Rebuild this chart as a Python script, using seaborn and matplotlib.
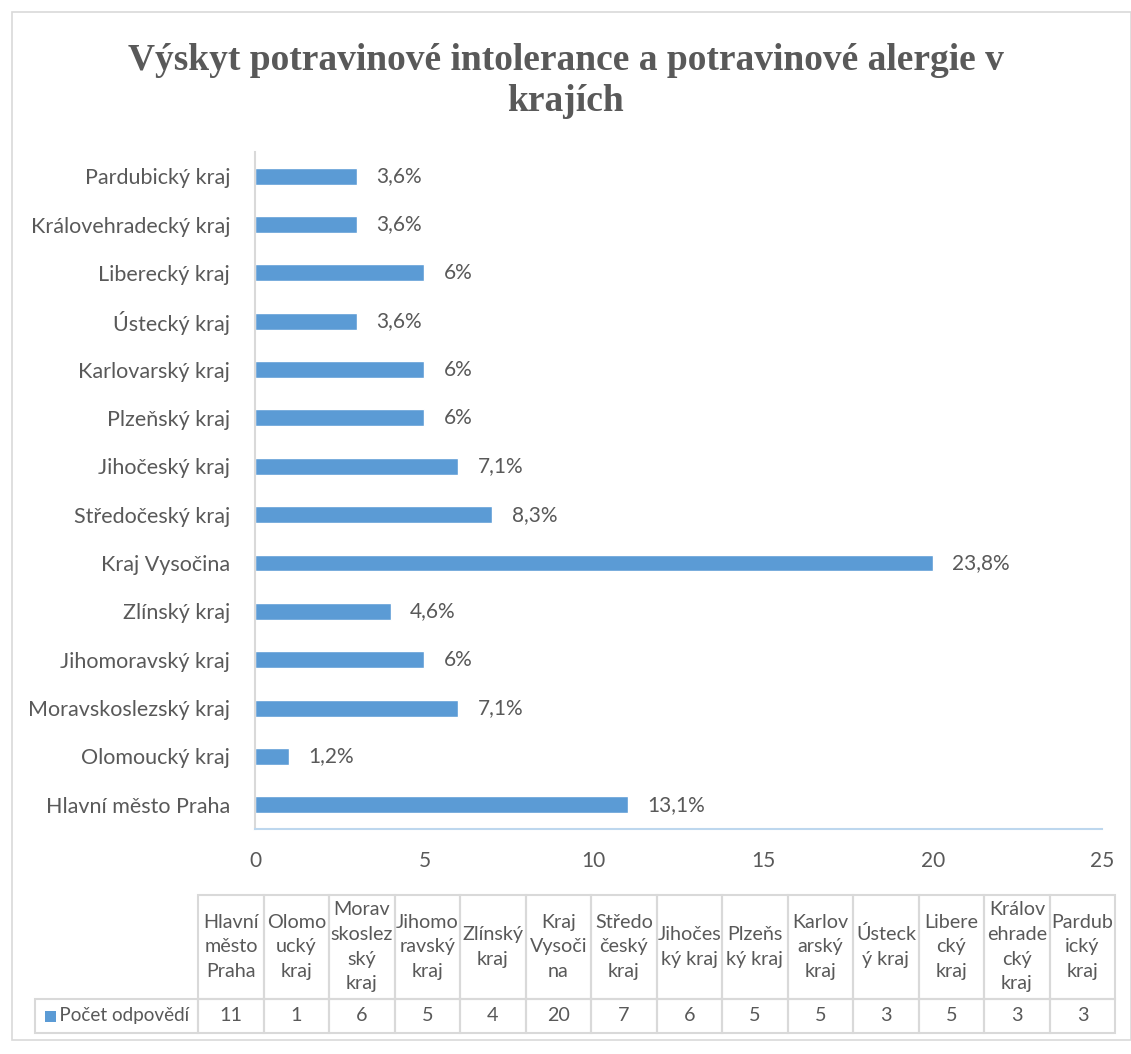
#! /usr/bin/env python3
import matplotlib
matplotlib.use("Agg")
import matplotlib.pyplot as plt
from matplotlib.patches import Rectangle
from matplotlib.table import Table
import pandas as pd
import seaborn as sns

# data, in the order of the table under the chart (bottom bar first)
regions = ["Hlavní město Praha", "Olomoucký kraj", "Moravskoslezský kraj",
           "Jihomoravský kraj", "Zlínský kraj", "Kraj Vysočina",
           "Středočeský kraj", "Jihočeský kraj", "Plzeňský kraj",
           "Karlovarský kraj", "Ústecký kraj", "Liberecký kraj",
           "Královehradecký kraj", "Pardubický kraj"]
counts = [11, 1, 6, 5, 4, 20, 7, 6, 5, 5, 3, 5, 3, 3]
pct_labels = ["13,1%", "1,2%", "7,1%", "6%", "4,6%", "23,8%", "8,3%",
              "7,1%", "6%", "6%", "3,6%", "6%", "3,6%", "3,6%"]
# header texts of the table, wrapped like in the original
table_headers = ["Hlavní\nměsto\nPraha", "Olomo\nucký\nkraj", "Morav\nskoslez\nský\nkraj",
                 "Jihomo\nravský\nkraj", "Zlínský\nkraj", "Kraj\nVysoči\nna",
                 "Středo\nčeský\nkraj", "Jihočes\nký kraj", "Plzeňs\nký kraj",
                 "Karlov\narský\nkraj", "Ústeck\ný kraj", "Libere\ncký\nkraj",
                 "Králov\nehrade\ncký\nkraj", "Pardub\nický\nkraj"]
series_name = "Počet odpovědí"
title = "Výskyt potravinové intolerance a potravinové alergie v\nkrajích"
xticks = [0, 5, 10, 15, 20, 25]

BAR_COLOR = "#5B9BD5"
TEXT_COLOR = "#595959"
LINE_COLOR = "#D9D9D9"
FONT = ["Lato", "DejaVu Sans"]

sns.set_style("white")
plt.rcParams["font.family"] = FONT
plt.rcParams["text.color"] = TEXT_COLOR

df = pd.DataFrame({"region": regions, "count": counts, "label": pct_labels})

fig = plt.figure(figsize=(11.31, 10.54), dpi=100)
ax = fig.add_axes([0.2255, 0.2135, 0.749, 0.6423])

sns.barplot(data=df, x="count", y="region", order=regions[::-1],
            color=BAR_COLOR, saturation=1, width=0.35, ax=ax)

# percent labels next to bars
lab_map = dict(zip(regions, pct_labels))
for cont in ax.containers:
    names = [t.get_text() for t in ax.get_yticklabels()]
    ax.bar_label(cont, labels=[lab_map[n] for n in names], padding=14,
                 fontsize=15, color=TEXT_COLOR)

ax.set_xlim(0, 25)
ax.set_xticks(xticks)
ax.set_xlabel("")
ax.set_ylabel("")
ax.tick_params(axis="both", length=0, labelsize=15.5, colors=TEXT_COLOR)
ax.tick_params(axis="x", labelsize=15)
ax.tick_params(axis="y", pad=18)
ax.tick_params(axis="x", pad=16)
for s in ["top", "right"]:
    ax.spines[s].set_visible(False)
ax.spines["left"].set_color(LINE_COLOR)
ax.spines["left"].set_linewidth(1.5)
ax.spines["bottom"].set_color("#BDD7EE")
ax.spines["bottom"].set_linewidth(1.5)

fig.text(0.50, 0.923, title, ha="center", va="center", fontsize=27,
         fontweight="bold", family=["Liberation Serif", "DejaVu Serif"],
         color=TEXT_COLOR, linespacing=1.2)

# data table under the chart
tax = fig.add_axes([0.031, 0.0199, 0.955, 0.131])
tax.axis("off")
tbl = Table(tax, bbox=[0, 0, 1, 1])
first_w = 0.151
col_w = (1 - first_w) / len(regions)
h_head, h_val = 0.75, 0.25
corner = tbl.add_cell(0, 0, first_w, h_head, text="")
corner.set_edgecolor("none")
for i, (hdr, val) in enumerate(zip(table_headers, counts)):
    c = tbl.add_cell(0, i + 1, col_w, h_head, text=hdr, loc="center")
    c.set_edgecolor(LINE_COLOR)
    c.set_linewidth(1.5)
    v = tbl.add_cell(1, i + 1, col_w, h_val, text=str(val), loc="center")
    v.set_edgecolor(LINE_COLOR)
    v.set_linewidth(1.5)
leg = tbl.add_cell(1, 0, first_w, h_val, text="     " + series_name, loc="left")
leg.set_edgecolor(LINE_COLOR)
leg.set_linewidth(1.5)
tbl.auto_set_font_size(False)
tbl.set_fontsize(14.2)
for cell in tbl.get_celld().values():
    cell.set_facecolor("none")
    cell.get_text().set_color(TEXT_COLOR)
    cell.get_text().set_linespacing(1.55)
    cell.PAD = 0.02
leg.PAD = 0.0
leg.get_text().set_fontsize(13.6)
tax.add_table(tbl)

# legend key square
fig.patches.append(Rectangle((45 / 1131, 1 - 1022 / 1054), 11 / 1131, 11 / 1054,
                             transform=fig.transFigure, facecolor=BAR_COLOR,
                             edgecolor="none"))
# chart border
fig.patches.append(Rectangle((12 / 1131, 1 - 1040 / 1054), 1 - 12 / 1131, 1028 / 1054,
                             transform=fig.transFigure, facecolor="none",
                             edgecolor=LINE_COLOR, linewidth=1.2))

fig.savefig("out.png", dpi=100)
